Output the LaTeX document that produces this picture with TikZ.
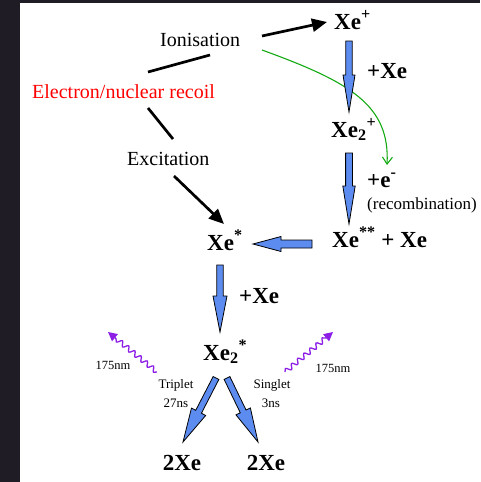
\documentclass[tikz,border=0pt]{standalone}
\usepackage{fontspec}
\setmainfont{Liberation Serif}
\usetikzlibrary{calc, arrows.meta, decorations.pathmorphing}

\definecolor{slideback}{RGB}{32,28,38}
\definecolor{xeblue}{RGB}{92,140,240}
\definecolor{recgreen}{RGB}{20,170,20}
\definecolor{photon}{RGB}{140,30,230}

% block arrow: start, end, shaft half width, head half width, head length
\newcommand{\blockarrow}[5]{%
  \coordinate (bh) at ($(#2)!#5!(#1)$);
  \draw[bluearrow] ($(#1)!#3!90:(#2)$) -- ($(bh)!#3!90:(#2)$) -- ($(bh)!#4!90:(#2)$)
    -- (#2) -- ($(bh)!#4!-90:(#2)$) -- ($(bh)!#3!-90:(#2)$) -- ($(#1)!#3!-90:(#2)$) -- cycle;}

\begin{document}
\begin{tikzpicture}[x=1pt, y=-1pt]
        \tikzset{bluearrow/.style={fill=xeblue, draw=black, line width=0.8pt, line join=miter}}
        \tikzset{blackarrow/.style={line width=2.7pt, -{Triangle[length=15pt,width=13pt]}}}
        \tikzset{plainline/.style={line width=2.7pt}}
        \tikzset{photonwave/.style={photon, line width=1.3pt, decorate,
            decoration={snake, amplitude=2.4pt, segment length=8pt, post length=7pt},
            -{Triangle[length=9pt,width=9pt]}}}
        \tikzset{chem/.style={font=\fontsize{23}{26}\selectfont\bfseries, inner sep=0pt, anchor=base west}}
        \tikzset{word/.style={font=\fontsize{20}{23}\selectfont, inner sep=0pt, anchor=base west}}
        \tikzset{note/.style={font=\fontsize{13}{15}\selectfont, inner sep=0pt, anchor=base}}

        \fill[slideback] (0,0) rectangle (480,482);
        \fill[white] (20,3) rectangle (480,482);

        % texts
        \node[word] (ion) at (160,46) {Ionisation};
        \node[word, red] (elec) at (32,98) {Electron/nuclear recoil};
        \node[word] (exc) at (127,165) {Excitation};

        \node[chem] (xep) at (334,29) {Xe\textsuperscript{+}};
        \node[chem] (plusxeA) at (367,78) {+Xe};
        \node[chem] (xetwop) at (331,137) {Xe\textsubscript{2}\textsuperscript{+}};
        \node[chem] (pluse) at (367,187) {+e\textsuperscript{-}};
        \node[word, font=\fontsize{17}{20}\selectfont] (recomb) at (367,209) {(recombination)};
        \node[chem] (xess) at (332,247) {Xe\textsuperscript{**} + Xe};
        \node[chem] (xes) at (207,250) {Xe\textsuperscript{*}};
        \node[chem] (plusxeB) at (239,303) {+Xe};
        \node[chem] (xetwos) at (203,360) {Xe\textsubscript{2}\textsuperscript{*}};

        \node[note] (trip) at (176,388) {Triplet};
        \node[note] (tripT) at (176,407) {27ns};
        \node[note] (sing) at (272,388) {Singlet};
        \node[note] (singT) at (271,407) {3ns};
        \node[note, font=\fontsize{12.5}{15}\selectfont] (nmL) at (113,369) {175nm};
        \node[note, font=\fontsize{12.5}{15}\selectfont] (nmR) at (333,372) {175nm};

        \node[chem, anchor=base] (twoxeL) at (182,470) {2Xe};
        \node[chem, anchor=base] (twoxeR) at (266,470) {2Xe};

        % connector ends
        \coordinate (elecup) at (148,72);
        \coordinate (ionlow) at (210,55);
        \coordinate (elecdown) at (148,108);
        \coordinate (exctop) at (173,139);
        \coordinate (ionright) at (262,36);
        \coordinate (xepleft) at (327,22);
        \coordinate (excbot) at (174,176);
        \coordinate (xestop) at (224,224);
        \coordinate (greenstart) at (262,50);
        \coordinate (greenend) at (387,165);

        \draw[plainline] (elecup) -- (ionlow);
        \draw[plainline] (elecdown) -- (exctop);
        \draw[blackarrow] (ionright) -- (xepleft);
        \draw[blackarrow] (excbot) -- (xestop);
        \draw[recgreen, line width=1.1pt, -{Straight Barb[length=7pt,width=10pt]}]
            (greenstart) .. controls (350,82) and (390,105) .. (greenend);

        % block arrows
        \coordinate (a1) at (349,41);  \coordinate (b1) at (349,112);
        \coordinate (a2) at (349,153); \coordinate (b2) at (349,224);
        \coordinate (a3) at (312,244); \coordinate (b3) at (253,244);
        \coordinate (a4) at (220,265); \coordinate (b4) at (220,332);
        \coordinate (a5) at (216,378); \coordinate (b5) at (183,442);
        \coordinate (a6) at (227,378); \coordinate (b6) at (258,442);
        \blockarrow{a1}{b1}{3.2pt}{6pt}{37pt}
        \blockarrow{a2}{b2}{3.4pt}{6.2pt}{38pt}
        \blockarrow{a3}{b3}{4pt}{7.5pt}{28pt}
        \blockarrow{a4}{b4}{3.2pt}{7pt}{36pt}
        \blockarrow{a5}{b5}{3.2pt}{8pt}{34pt}
        \blockarrow{a6}{b6}{3.2pt}{8pt}{34pt}

        % photons
        \coordinate (wLs) at (157,372); \coordinate (wLe) at (108,332);
        \coordinate (wRs) at (285,372); \coordinate (wRe) at (333,332);
        \draw[photonwave] (wLs) -- (wLe);
        \draw[photonwave] (wRs) -- (wRe);
    \end{tikzpicture}
\end{document}
